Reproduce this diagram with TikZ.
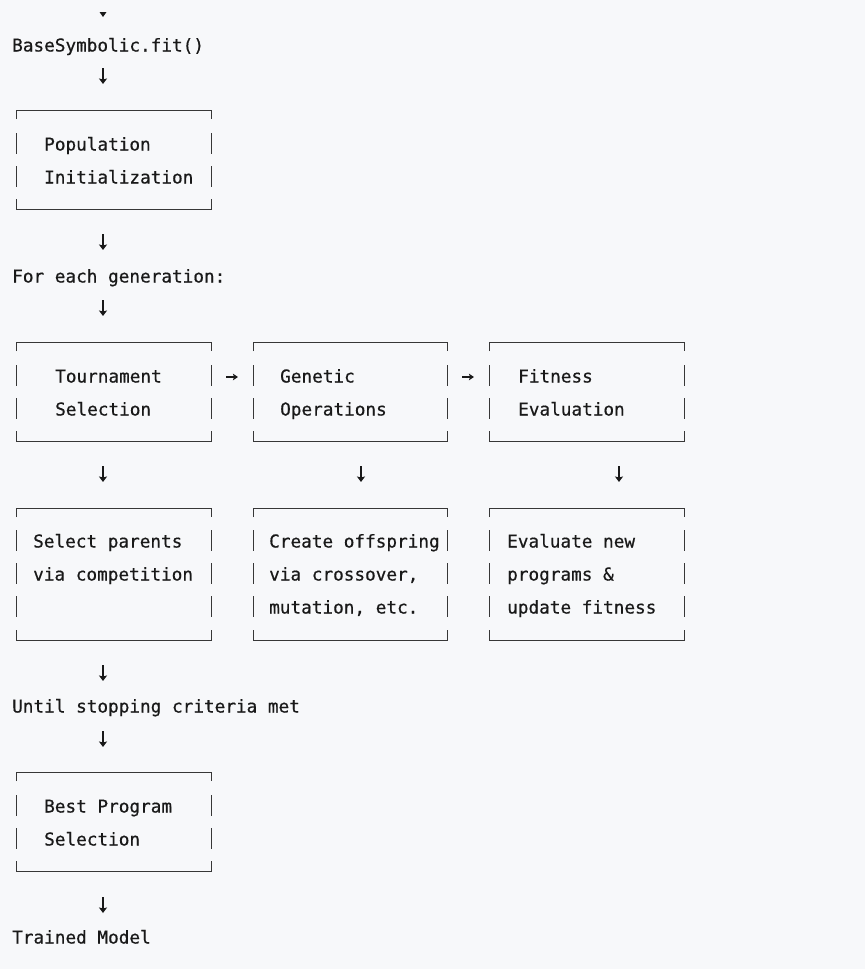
\documentclass[tikz,border=0pt]{standalone}
\usepackage{fontspec}
\usetikzlibrary{arrows.meta}
\newfontfamily\monof{DejaVu Sans Mono}[FakeBold=0.6]
\definecolor{bg}{RGB}{247,248,250}
\definecolor{ink}{RGB}{25,25,25}
\definecolor{boxline}{RGB}{55,55,55}
\tikzset{
 txt/.style={anchor=base west, inner sep=0pt, font=\monof\fontsize{17.7}{20}\selectfont, text=ink},
 arr/.style={draw=ink, line width=1.2pt, -{Stealth[width=8pt,length=5.5pt,inset=1pt]}},
 boxln/.style={draw=boxline, line width=1pt},
}
\newcommand\asciibox[5]{%
 \draw[boxln] (#1,#2+9) -- (#1,#2) -- (#3,#2) -- (#3,#2+9);
 \draw[boxln] (#1,#4-10) -- (#1,#4) -- (#3,#4) -- (#3,#4-10);
 \foreach \c in {#5} {\draw[boxln] (#1,\c-11) -- (#1,\c+10); \draw[boxln] (#3,\c-11) -- (#3,\c+10);}
}
\newcommand\downarr[3]{% name x ycenter
 \coordinate (#1s) at (#2,#3-8);
 \coordinate (#1e) at (#2,#3+8);
 \draw[arr] (#1s) -- (#1e);
}
\newcommand\rightarr[3]{%
 \coordinate (#1s) at (#2-6,#3);
 \coordinate (#1e) at (#2+6,#3);
 \draw[arr, line width=1.1pt, -{Stealth[width=6.5pt,length=5pt,inset=1pt]}] (#1s) -- (#1e);
}
\begin{document}
\begin{tikzpicture}[x=1pt,y=-1pt]
\useasboundingbox (0,0) rectangle (865,969);
\fill[bg] (0,0) rectangle (865,969);
% top tip
\fill[ink] (99.5,12) -- (106.5,12) -- (103,17) -- cycle;
\node[txt] (fit) at (12,51.5) {BaseSymbolic.fit()};
\downarr{d1}{103}{76}
\asciibox{16}{110}{211}{209}{144,177}
\node[txt] (pop1) at (44,150.5) {Population};
\node[txt] (pop2) at (44,183.5) {Initialization};
\downarr{d2}{103}{242}
\node[txt] (gen) at (12,282.5) {For each generation:};
\downarr{d3}{103}{308}
% row 1
\asciibox{16}{342}{211}{441}{376,409}
\asciibox{253}{342}{447}{441}{376,409}
\asciibox{489}{342}{684}{441}{376,409}
\node[txt] (ta1) at (55,382.5) {Tournament};
\node[txt] (ta2) at (55,415.5) {Selection};
\node[txt] (tb1) at (280,382.5) {Genetic};
\node[txt] (tb2) at (280,415.5) {Operations};
\node[txt] (tc1) at (518,382.5) {Fitness};
\node[txt] (tc2) at (518,415.5) {Evaluation};
\rightarr{r1}{232}{377}
\rightarr{r2}{468}{377}
\downarr{d4}{103}{474}
\downarr{d5}{361}{474}
\downarr{d6}{619}{474}
% row 2
\asciibox{16}{508}{211}{640}{541,574,607}
\asciibox{253}{508}{447}{640}{541,574,607}
\asciibox{489}{508}{684}{640}{541,574,607}
\node[txt] (sa1) at (33,547.5) {Select parents};
\node[txt] (sa2) at (33,580.5) {via competition};
\node[txt] (sb1) at (269,547.5) {Create offspring};
\node[txt] (sb2) at (269,580.5) {via crossover,};
\node[txt] (sb3) at (269,613.5) {mutation, etc.};
\node[txt] (sc1) at (507,547.5) {Evaluate new};
\node[txt] (sc2) at (507,580.5) {programs \&};
\node[txt] (sc3) at (507,613.5) {update fitness};
\downarr{d7}{103}{673}
\node[txt] (until) at (12,712.5) {Until stopping criteria met};
\downarr{d8}{103}{739}
\asciibox{16}{772}{211}{871}{806,839}
\node[txt] (best1) at (44,812.5) {Best Program};
\node[txt] (best2) at (44,845.5) {Selection};
\downarr{d9}{103}{905}
\node[txt] (trained) at (12,943.5) {Trained Model};
\end{tikzpicture}
\end{document}
